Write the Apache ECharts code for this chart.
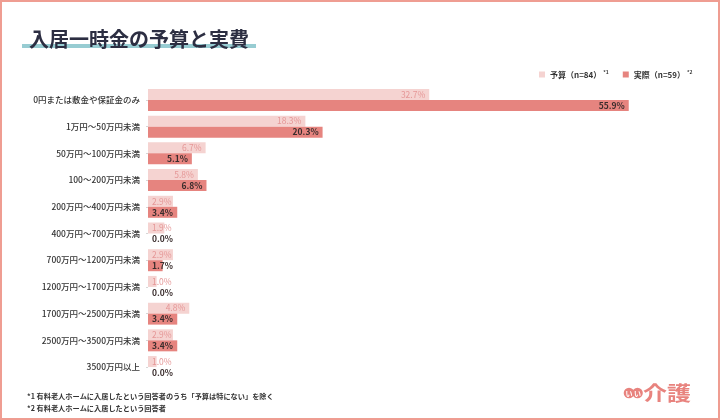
<!DOCTYPE html>
<html><head><meta charset="utf-8">
<script src="https://cdn.jsdelivr.net/npm/echarts@6/dist/echarts.min.js"></script>
<style>html,body{margin:0;padding:0;background:#fff}#c{width:720px;height:420px}</style>
</head><body><div id="c"></div>
<script>
const categories = ['0円または敷金や保証金のみ','1万円～50万円未満','50万円～100万円未満','100～200万円未満','200万円～400万円未満','400万円～700万円未満','700万円～1200万円未満','1200万円～1700万円未満','1700万円～2500万円未満','2500万円～3500万円未満','3500万円以上'];
const budget = [32.7,18.3,6.7,5.8,2.9,1.9,2.9,1.0,4.8,2.9,1.0];
const actual = [55.9,20.3,5.1,6.8,3.4,0.0,1.7,0.0,3.4,3.4,0.0];
const seriesNames = ['予算','実際'];
const sampleSizes = [84,59];
const noteMarks = ['*1','*2'];
const footnotes = ['*1 有料老人ホームに入居したという回答者のうち「予算は特にない」を除く','*2 有料老人ホームに入居したという回答者'];
const titleText = '入居一時金の予算と実費';

const FONT = '"Noto Sans CJK JP", "Noto Sans", sans-serif';
const insideThreshold = 3.5;
function items(arr, color, weight){
  return arr.map(v => ({
    value: v,
    label: {
      position: v >= insideThreshold ? 'insideRight' : 'insideLeft',
      distance: 4,
      color: color, fontWeight: weight
    }
  }));
}
const chart = echarts.init(document.getElementById('c'), null, {renderer:'canvas'});
chart.setOption({
  animation: false,
  textStyle: {fontFamily: FONT},
  grid: {left: 148, right: 56, top: 86.6, bottom: 39.6, containLabel: false},
  xAxis: {type: 'value', min: 0, max: 60, show: false},
  yAxis: {
    type: 'category', data: categories, inverse: true,
    axisLine: {show: false},
    axisTick: {show: true, alignWithLabel: true, length: 2, lineStyle: {color: '#d6d6d6'}},
    axisLabel: {fontSize: 8.5, color: '#333', margin: 8, fontFamily: FONT, fontWeight: 500}
  },
  legend: {
    left: 534, top: 65, itemWidth: 6, itemHeight: 6, itemGap: 14, icon: 'rect',
    data: seriesNames,
    formatter: function(name){
      const i = seriesNames.indexOf(name);
      return name + '（n=' + sampleSizes[i] + '）{s|' + noteMarks[i] + '}';
    },
    textStyle: {fontSize: 8, color: '#333', fontWeight: 'bold', fontFamily: FONT,
      rich: {s: {fontSize: 5, color: '#333', verticalAlign: 'top', padding: [0,0,4,2]}}}
  },
  series: [
    {name: seriesNames[0], type: 'bar', data: items(budget, '#e59797', 'normal'),
     barWidth: 11, barGap: '0%', itemStyle: {color: '#f5d3d1'},
     label: {show: true, fontSize: 8.5, formatter: p => p.value.toFixed(1) + '%', fontFamily: FONT}},
    {name: seriesNames[1], type: 'bar', data: items(actual, '#3a2d2d', 'bold'),
     barWidth: 11, barGap: '0%', itemStyle: {color: '#e6847f'},
     label: {show: true, fontSize: 8.5, formatter: p => p.value.toFixed(1) + '%', fontFamily: FONT}}
  ],
  graphic: [
    {type: 'rect', z: 100, silent: true, shape: {x: 1, y: 1, width: 718, height: 418},
     style: {fill: 'none', stroke: '#ef9d92', lineWidth: 2}},
    {type: 'rect', z: 1, shape: {x: 22, y: 44, width: 234, height: 4}, style: {fill: '#97ccd2'}},
    {type: 'text', z: 2, x: 29, y: 39, style: {text: titleText,
      fill: '#2c2e42', font: 'bold 20px ' + FONT, verticalAlign: 'middle'}},
    {type: 'text', x: 27, y: 396, style: {text: footnotes[0], fill: '#333', font: 'bold 7.2px ' + FONT, verticalAlign: 'middle'}},
    {type: 'text', x: 27, y: 408, style: {text: footnotes[1], fill: '#333', font: 'bold 7.2px ' + FONT, verticalAlign: 'middle'}},
    {type: 'circle', shape: {cx: 629, cy: 393, r: 5.3}, style: {fill: '#e8837e'}},
    {type: 'circle', shape: {cx: 637.5, cy: 393, r: 5.3}, style: {fill: '#e8837e'}},
    {type: 'text', x: 629, y: 393, style: {text: 'い', fill: '#fff', font: 'bold 7px ' + FONT, align: 'center', verticalAlign: 'middle'}},
    {type: 'text', x: 637.5, y: 393, style: {text: 'い', fill: '#fff', font: 'bold 7px ' + FONT, align: 'center', verticalAlign: 'middle'}},
    {type: 'text', x: 643, y: 393, scaleX: 1.2,
     style: {text: '介護', fill: '#e8837e', font: 'bold 20px ' + FONT, verticalAlign: 'middle'}}
  ]
});
</script></body></html>
